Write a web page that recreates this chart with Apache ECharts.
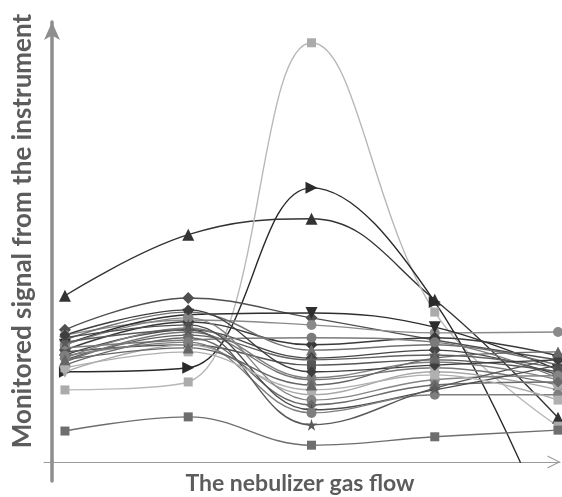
<!DOCTYPE html>
<html>
<head>
<meta charset="utf-8">
<script src="https://cdn.jsdelivr.net/npm/echarts@6/dist/echarts.min.js"></script>
<style>
  html, body { margin: 0; padding: 0; background: #fff; }
  #chart { width: 562px; height: 497px; }
</style>
</head>
<body>
<div id="chart"></div>
<script>
// Gas-flow settings (positions along the horizontal axis)
const flowSteps = [0, 1, 2, 3, 4];

// Monitored signal for each traced line (arbitrary units)
const s01 = [37.6, 51.4, 55.0, 36.7, 10.0];
const s02 = [16.3, 18.1, 94.8, 33.9, 8.1];
const s03 = [20.4, 21.3, 62.0, 36.2, -20.1];
const s04 = [7.0, 10.2, 3.8, 5.7, 7.2];
const s05 = [29.9, 37.1, 32.6, 27.6, 23.1];
const s06 = [28.7, 32.1, 31.0, 29.2, 29.4];
const s07 = [26.5, 33.3, 33.7, 30.5, 20.8];
const s08 = [25.3, 31.7, 26.5, 28.1, 24.0];
const s09 = [27.6, 33.9, 25.3, 26.5, 21.9];
const s10 = [24.2, 29.9, 23.5, 25.3, 19.7];
const s11 = [23.1, 28.7, 23.1, 24.2, 21.3];
const s12 = [25.8, 27.6, 28.1, 27.1, 19.0];
const s13 = [24.9, 26.5, 21.9, 23.1, 20.4];
const s14 = [23.5, 30.3, 19.0, 22.6, 18.6];
const s15 = [22.6, 29.4, 18.6, 21.3, 17.4];
const s16 = [20.4, 26.5, 15.2, 20.4, 16.3];
const s17 = [26.5, 32.6, 14.0, 18.6, 19.5];
const s18 = [21.9, 28.1, 12.9, 17.4, 18.1];
const s19 = [28.1, 31.0, 11.8, 16.3, 21.9];
const s20 = [24.0, 27.1, 11.1, 15.2, 15.2];
const s21 = [27.1, 29.9, 8.4, 16.7, 23.5];
const s22 = [21.3, 24.9, 16.3, 19.7, 14.0];
const s23 = [28.7, 34.4, 20.4, 21.9, 23.1];
const s24 = [23.1, 25.8, 17.4, 23.5, 24.9];

const allSeries = [s01, s02, s03, s04, s05, s06, s07, s08, s09, s10, s11, s12,
                   s13, s14, s15, s16, s17, s18, s19, s20, s21, s22, s23, s24];

const STAR = 'path://M50,0 L61,35 L98,35 L68,57 L79,91 L50,70 L21,91 L32,57 L2,35 L39,35 Z';

// Marker shape / grey tone for each line
const looks = [
  { sym: 'triangle', rot: 0,   color: '#333333', size: 12 },
  { sym: 'rect',     rot: 0,   color: '#ababab', size: 9, line: '#b8b8b8' },
  { sym: 'triangle', rot: -90, color: '#2a2a2a', size: 12 },
  { sym: 'rect',     rot: 0,   color: '#6e6e6e', size: 9 },
  { sym: 'diamond',  rot: 0,   color: '#505050', size: 12 },
  { sym: 'circle',   rot: 0,   color: '#8a8a8a', size: 10 },
  { sym: 'triangle', rot: 180, color: '#2e2e2e', size: 12 },
  { sym: 'diamond',  rot: 0,   color: '#3a3a3a', size: 12 },
  { sym: 'triangle', rot: 0,   color: '#707070', size: 11 },
  { sym: 'diamond',  rot: 0,   color: '#454545', size: 12 },
  { sym: STAR,       rot: 0,   color: '#606060', size: 12 },
  { sym: 'circle',   rot: 0,   color: '#7a7a7a', size: 10 },
  { sym: 'rect',     rot: 0,   color: '#555555', size: 9 },
  { sym: 'circle',   rot: 0,   color: '#808080', size: 10 },
  { sym: 'triangle', rot: 0,   color: '#767676', size: 11 },
  { sym: 'triangle', rot: 180, color: '#a8a8a8', size: 12 },
  { sym: 'circle',   rot: 0,   color: '#858585', size: 10 },
  { sym: 'diamond',  rot: 0,   color: '#6a6a6a', size: 11 },
  { sym: STAR,       rot: 0,   color: '#4c4c4c', size: 12 },
  { sym: 'circle',   rot: 0,   color: '#7e7e7e', size: 10 },
  { sym: STAR,       rot: 0,   color: '#5a5a5a', size: 12 },
  { sym: 'rect',     rot: 0,   color: '#b0b0b0', size: 9 },
  { sym: 'diamond',  rot: 0,   color: '#3e3e3e', size: 11 },
  { sym: 'triangle', rot: 0,   color: '#666666', size: 11 }
];

const AXIS_GREY = '#8e8e8e';

const series = allSeries.map((vals, i) => {
  const lk = looks[i];
  return {
    type: 'line',
    xAxisIndex: 0,
    yAxisIndex: 0,
    data: vals.map((v, j) => [flowSteps[j], v]),
    smooth: 0.4,
    symbol: lk.sym,
    symbolRotate: lk.rot,
    symbolSize: lk.size,
    showAllSymbol: true,
    lineStyle: { color: lk.line || lk.color, width: 1.4 },
    itemStyle: { color: lk.color, borderWidth: 0 },
    emphasis: { disabled: true },
    animation: false
  };
});

const chart = echarts.init(document.getElementById('chart'), null, { renderer: 'canvas' });

chart.setOption({
  animation: false,
  backgroundColor: '#ffffff',
  grid: [
    { left: 44, right: 2, top: 22, bottom: 35 },
    { left: 44, right: 2, top: 462, bottom: 16 }
  ],
  xAxis: [
    {
      type: 'value', gridIndex: 0,
      min: -0.17, max: 4.016,
      axisLine: {
        show: true, onZero: false,
        lineStyle: { color: '#9a9a9a', width: 1 },
        symbol: ['none', 'path://M0,10 L5,0 L10,10 L9.1,10 L5,1.8 L0.9,10 Z'],
        symbolSize: [14, 13],
        symbolOffset: [0, -6]
      },
      axisTick: { show: false },
      axisLabel: { show: false },
      splitLine: { show: false }
    },
    { type: 'value', gridIndex: 1, show: false, min: 0, max: 1 }
  ],
  yAxis: [
    {
      type: 'value', gridIndex: 0,
      min: 0, max: 99.5,
      offset: -8,
      axisLine: {
        show: true, onZero: false,
        lineStyle: { color: AXIS_GREY, width: 3.5 },
        symbol: ['none', 'arrow'],
        symbolSize: [12, 18],
        symbolOffset: [0, 0]
      },
      axisTick: { show: false },
      axisLabel: { show: false },
      splitLine: { show: false }
    },
    {
      type: 'value', gridIndex: 1,
      min: 0, max: 1,
      offset: -8,
      axisLine: { show: true, onZero: false, lineStyle: { color: AXIS_GREY, width: 3.5 } },
      axisTick: { show: false },
      axisLabel: { show: false },
      splitLine: { show: false }
    }
  ],
  graphic: [
    {
      type: 'text',
      x: 23, y: 231,
      rotation: Math.PI / 2,
      style: {
        text: 'Monitored signal from the instrument',
        font: 'bold 26px Lato',
        fill: '#5c5c5c',
        textAlign: 'center',
        textVerticalAlign: 'middle'
      }
    },
    {
      type: 'text',
      x: 300, y: 484,
      style: {
        text: 'The nebulizer gas flow',
        font: 'bold 23px Lato',
        fill: '#5c5c5c',
        textAlign: 'center',
        textVerticalAlign: 'middle'
      }
    }
  ],
  series: series
});
</script>
</body>
</html>
